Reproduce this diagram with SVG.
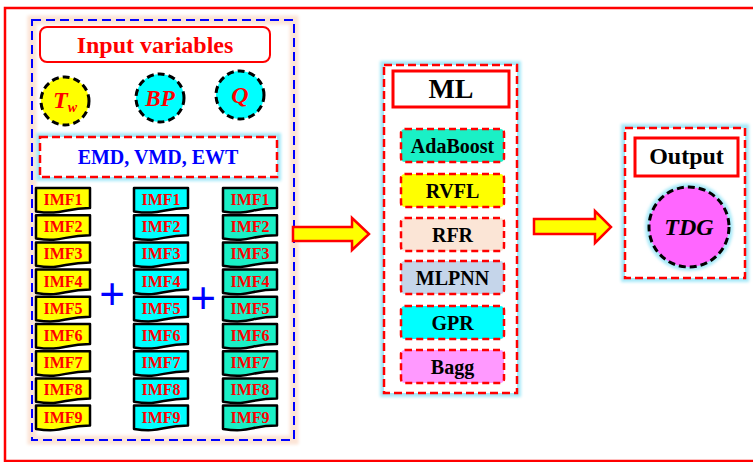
<svg xmlns="http://www.w3.org/2000/svg" width="753" height="462" viewBox="0 0 753 462" font-family="'Liberation Serif', 'Times New Roman', serif">
<defs>
<style>
text{font-weight:bold;text-anchor:middle}
.imf{fill:#FF0000;font-size:16px}
.doc{stroke:#000;stroke-width:2.5;stroke-linejoin:round}
.alg{stroke:#FF0000;stroke-width:2.5;stroke-dasharray:7 4}
.algt{fill:#000;font-size:20px}
.circ{stroke:#000;stroke-width:3;stroke-dasharray:7 4}
.glowc{fill:none;stroke:#A6E9F8;stroke-width:8;filter:url(#blur)}
.arrow{fill:#FFFF00;stroke:#FF0000;stroke-width:2.5}
</style>
<filter id="blur" x="-20%" y="-20%" width="140%" height="140%"><feGaussianBlur stdDeviation="1.6"/></filter>
<path id="d" d="M0,0 H54 V20 C27,20 27,27.5 0,23.4 Z"/>
</defs>
<rect width="753" height="462" fill="#fff"/>
<rect x="5" y="8" width="760" height="453" fill="none" stroke="#FF0000" stroke-width="2.5"/>

<g id="input-panel">
<rect x="32" y="20" width="262" height="420" fill="none" stroke="#FCE4D6" stroke-width="9" filter="url(#blur)"/>
<rect x="32" y="20" width="262" height="420" fill="none" stroke="#0000FF" stroke-width="2" stroke-dasharray="9 5"/>
</g>
<g id="input-title">
<rect x="40" y="27" width="230" height="35" rx="7" fill="#fff" stroke="#FF0000" stroke-width="2"/>
<text x="155" y="53" fill="#FF0000" font-size="24">Input variables</text>
</g>
<g id="Tw">
<circle cx="65" cy="101" r="24" fill="#FFFF00" class="circ"/>
<text x="65" y="108" fill="#FF0000" font-size="24" font-style="italic">T<tspan font-size="14" dy="4">w</tspan></text>
</g>
<g id="BP">
<circle cx="160" cy="98" r="24" fill="#00FFFF" class="circ"/>
<text x="160" y="106" fill="#FF0000" font-size="23" font-style="italic">BP</text>
</g>
<g id="Q">
<circle cx="240" cy="95" r="24" fill="#00FFFF" class="circ"/>
<text x="240" y="103" fill="#FF0000" font-size="24" font-style="italic">Q</text>
</g>
<g id="decomp">
<rect x="40" y="137" width="237" height="40" class="glowc"/>
<rect x="40" y="137" width="237" height="40" fill="#fff" stroke="#FF0000" stroke-width="2.5" stroke-dasharray="8 4"/>
<text x="158" y="164" fill="#0000FF" font-size="20">EMD, VMD, EWT</text>
</g>

<g id="imf-col1" fill="#FFFF00">
<use href="#d" x="36" y="188" class="doc"/><text class="imf" x="63" y="205">IMF1</text>
<use href="#d" x="36" y="215.2" class="doc"/><text class="imf" x="63" y="232.2">IMF2</text>
<use href="#d" x="36" y="242.4" class="doc"/><text class="imf" x="63" y="259.4">IMF3</text>
<use href="#d" x="36" y="269.6" class="doc"/><text class="imf" x="63" y="286.6">IMF4</text>
<use href="#d" x="36" y="296.8" class="doc"/><text class="imf" x="63" y="313.8">IMF5</text>
<use href="#d" x="36" y="324" class="doc"/><text class="imf" x="63" y="341">IMF6</text>
<use href="#d" x="36" y="351.2" class="doc"/><text class="imf" x="63" y="368.2">IMF7</text>
<use href="#d" x="36" y="378.4" class="doc"/><text class="imf" x="63" y="395.4">IMF8</text>
<use href="#d" x="36" y="405.6" class="doc"/><text class="imf" x="63" y="422.6">IMF9</text>
</g>
<g id="imf-col2" fill="#00FFFF">
<use href="#d" x="134" y="188" class="doc"/><text class="imf" x="161" y="205">IMF1</text>
<use href="#d" x="134" y="215.2" class="doc"/><text class="imf" x="161" y="232.2">IMF2</text>
<use href="#d" x="134" y="242.4" class="doc"/><text class="imf" x="161" y="259.4">IMF3</text>
<use href="#d" x="134" y="269.6" class="doc"/><text class="imf" x="161" y="286.6">IMF4</text>
<use href="#d" x="134" y="296.8" class="doc"/><text class="imf" x="161" y="313.8">IMF5</text>
<use href="#d" x="134" y="324" class="doc"/><text class="imf" x="161" y="341">IMF6</text>
<use href="#d" x="134" y="351.2" class="doc"/><text class="imf" x="161" y="368.2">IMF7</text>
<use href="#d" x="134" y="378.4" class="doc"/><text class="imf" x="161" y="395.4">IMF8</text>
<use href="#d" x="134" y="405.6" class="doc"/><text class="imf" x="161" y="422.6">IMF9</text>
</g>
<g id="imf-col3" fill="#1AF0C6">
<use href="#d" x="223" y="188" class="doc"/><text class="imf" x="250" y="205">IMF1</text>
<use href="#d" x="223" y="215.2" class="doc"/><text class="imf" x="250" y="232.2">IMF2</text>
<use href="#d" x="223" y="242.4" class="doc"/><text class="imf" x="250" y="259.4">IMF3</text>
<use href="#d" x="223" y="269.6" class="doc"/><text class="imf" x="250" y="286.6">IMF4</text>
<use href="#d" x="223" y="296.8" class="doc"/><text class="imf" x="250" y="313.8">IMF5</text>
<use href="#d" x="223" y="324" class="doc"/><text class="imf" x="250" y="341">IMF6</text>
<use href="#d" x="223" y="351.2" class="doc"/><text class="imf" x="250" y="368.2">IMF7</text>
<use href="#d" x="223" y="378.4" class="doc"/><text class="imf" x="250" y="395.4">IMF8</text>
<use href="#d" x="223" y="405.6" class="doc"/><text class="imf" x="250" y="422.6">IMF9</text>
</g>
<g id="plus-signs" font-family="'Liberation Sans', Arial, sans-serif">
<text x="112" y="309" fill="#0000FF" font-size="44" font-weight="normal" style="font-weight:normal">+</text>
<text x="203" y="313" fill="#0000FF" font-size="44" style="font-weight:normal">+</text>
</g>

<g id="ml-panel">
<rect x="384" y="65" width="133" height="328" class="glowc"/>
<rect x="384" y="65" width="133" height="328" fill="#fff" stroke="#FF0000" stroke-width="2.5" stroke-dasharray="8 4"/>
</g>
<g id="ml-title">
<rect x="393" y="71" width="116" height="36" fill="#fff" stroke="#FF0000" stroke-width="3"/>
<text x="451" y="98" fill="#000" font-size="28">ML</text>
</g>
<g id="adaboost"><rect x="401" y="129" width="103" height="33" rx="4" fill="#1AF0C6" class="alg"/><text class="algt" x="452.5" y="153">AdaBoost</text></g>
<g id="rvfl"><rect x="401" y="174" width="103" height="33" rx="4" fill="#FFFF00" class="alg"/><text class="algt" x="452.5" y="198">RVFL</text></g>
<g id="rfr"><rect x="401" y="218" width="103" height="33" rx="4" fill="#FBE5D6" class="alg"/><text class="algt" x="452.5" y="242">RFR</text></g>
<g id="mlpnn"><rect x="401" y="261" width="103" height="33" rx="4" fill="#C5D5EA" class="alg"/><text class="algt" x="452.5" y="285">MLPNN</text></g>
<g id="gpr"><rect x="401" y="306" width="103" height="33" rx="4" fill="#00FFFF" class="alg"/><text class="algt" x="452.5" y="330">GPR</text></g>
<g id="bagg"><rect x="401" y="350" width="103" height="33" rx="4" fill="#FF99FF" class="alg"/><text class="algt" x="452.5" y="374">Bagg</text></g>

<g id="output-panel">
<rect x="625" y="128" width="120" height="150" class="glowc"/>
<rect x="625" y="128" width="120" height="150" fill="#fff" stroke="#FF0000" stroke-width="2.5" stroke-dasharray="8 4"/>
</g>
<g id="output-title">
<rect x="635" y="138" width="103" height="38" fill="#fff" stroke="#FF0000" stroke-width="3"/>
<text x="686.5" y="164" fill="#000" font-size="24">Output</text>
</g>
<g id="TDG">
<circle cx="689" cy="227" r="40" fill="none" stroke="#A6E9F8" stroke-width="8" filter="url(#blur)"/>
<circle cx="689" cy="227" r="40" fill="#FF66FF" class="circ"/>
<text x="689" y="235" fill="#000" font-size="24" font-style="italic">TDG</text>
</g>

<g id="connectors">
<polygon class="arrow" points="293,227 352,227 352,218 369,234 352,250 352,241 293,241"/>
<polygon class="arrow" points="534,219 595,219 595,211 611,227 595,243 595,234 534,234"/>
</g>
</svg>
